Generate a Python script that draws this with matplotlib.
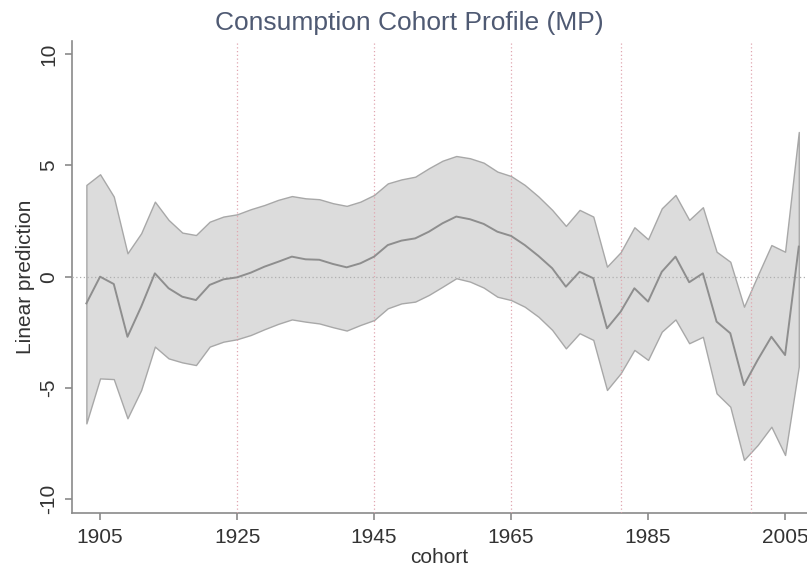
import numpy as np
import matplotlib
matplotlib.use("Agg")
import matplotlib.pyplot as plt

plt.rcParams['font.family'] = ['Liberation Sans', 'DejaVu Sans']

# cohort years, every two years
cohort = list(range(1903, 2009, 2))

# point prediction
pred = [-1.2, 0.0, -0.33, -2.7, -1.35, 0.15, -0.52, -0.9, -1.05, -0.37,
        -0.12, -0.03, 0.18, 0.45, 0.67, 0.9, 0.78, 0.76, 0.57, 0.42,
        0.6, 0.9, 1.42, 1.62, 1.72, 2.02, 2.4, 2.7, 2.58, 2.37,
        2.02, 1.83, 1.42, 0.93, 0.38, -0.45, 0.22, -0.07, -2.32, -1.57,
        -0.52, -1.12, 0.22, 0.9, -0.25, 0.15, -2.02, -2.54, -4.87, -3.74,
        -2.7, -3.52, 1.35]

# upper confidence bound
upper = [4.12, 4.6, 3.6, 1.05, 1.95, 3.37, 2.55, 1.98, 1.87, 2.47,
         2.7, 2.8, 3.03, 3.22, 3.45, 3.62, 3.52, 3.48, 3.3, 3.18,
         3.37, 3.67, 4.19, 4.37, 4.49, 4.87, 5.21, 5.42, 5.32, 5.12,
         4.72, 4.52, 4.12, 3.6, 3.0, 2.28, 3.0, 2.7, 0.45, 1.1,
         2.22, 1.68, 3.07, 3.67, 2.55, 3.12, 1.12, 0.67, -1.35, 0.05,
         1.42, 1.12, 6.5]

# lower confidence bound
lower = [-6.59, -4.57, -4.6, -6.36, -5.09, -3.14, -3.67, -3.85, -3.97, -3.14,
         -2.92, -2.81, -2.62, -2.36, -2.12, -1.92, -2.02, -2.1, -2.27, -2.42,
         -2.17, -1.95, -1.42, -1.2, -1.12, -0.82, -0.45, -0.07, -0.22, -0.49,
         -0.9, -1.05, -1.35, -1.8, -2.39, -3.22, -2.54, -2.84, -5.09, -4.34,
         -3.29, -3.74, -2.47, -1.92, -2.99, -2.7, -5.24, -5.84, -8.23, -7.56,
         -6.74, -8.01, -4.04]

xticks = [1905, 1925, 1945, 1965, 1985, 2005]
yticks = [-10, -5, 0, 5, 10]
vlines = [1925, 1945, 1965, 1981, 2000]

fig = plt.figure(figsize=(8.07, 5.69), dpi=100)
ax = fig.add_axes([0.0892, 0.099, 0.9108, 0.8295])

# confidence band and prediction
ax.fill_between(cohort, lower, upper, facecolor='#dcdcdc', edgecolor='#a8a8a8',
                linewidth=1.0, zorder=2)
ax.plot(cohort, pred, color='#8e8e8e', linewidth=1.4, zorder=4)

# reference lines, drawn over the band
for v in vlines:
    ax.axvline(v, color='#e0a6b0', linestyle=(0, (1, 2)), linewidth=0.9, zorder=3)
ax.axhline(0, color='#b0b0b0', linestyle=(0, (1, 2)), linewidth=0.9, zorder=3)

ax.set_xlim(1900.9, 2008.2)
ax.set_ylim(-10.6, 10.6)
ax.set_xticks(xticks)
ax.set_yticks(yticks)
ax.set_yticklabels([str(t) for t in yticks], rotation=90, va='center')

for side in ['top', 'right']:
    ax.spines[side].set_visible(False)
for side in ['left', 'bottom']:
    ax.spines[side].set_color('#8a8a8a')
    ax.spines[side].set_linewidth(1.2)
ax.tick_params(axis='both', colors='#8a8a8a', length=5, width=1.2,
               labelsize=15, labelcolor='#333333')
ax.tick_params(axis='x', pad=6)
ax.tick_params(axis='y', pad=5)

ax.set_xlabel('cohort', fontsize=15, color='#333333', labelpad=1)
ax.set_ylabel('Linear prediction', fontsize=15, color='#333333', labelpad=3)
# title sits a little left of the axes centre in the original
fig.text(0.507, 0.96, 'Consumption Cohort Profile (MP)', fontsize=19,
         color='#4f5a73', ha='center', va='center')

fig.savefig('out.png', dpi=100)
